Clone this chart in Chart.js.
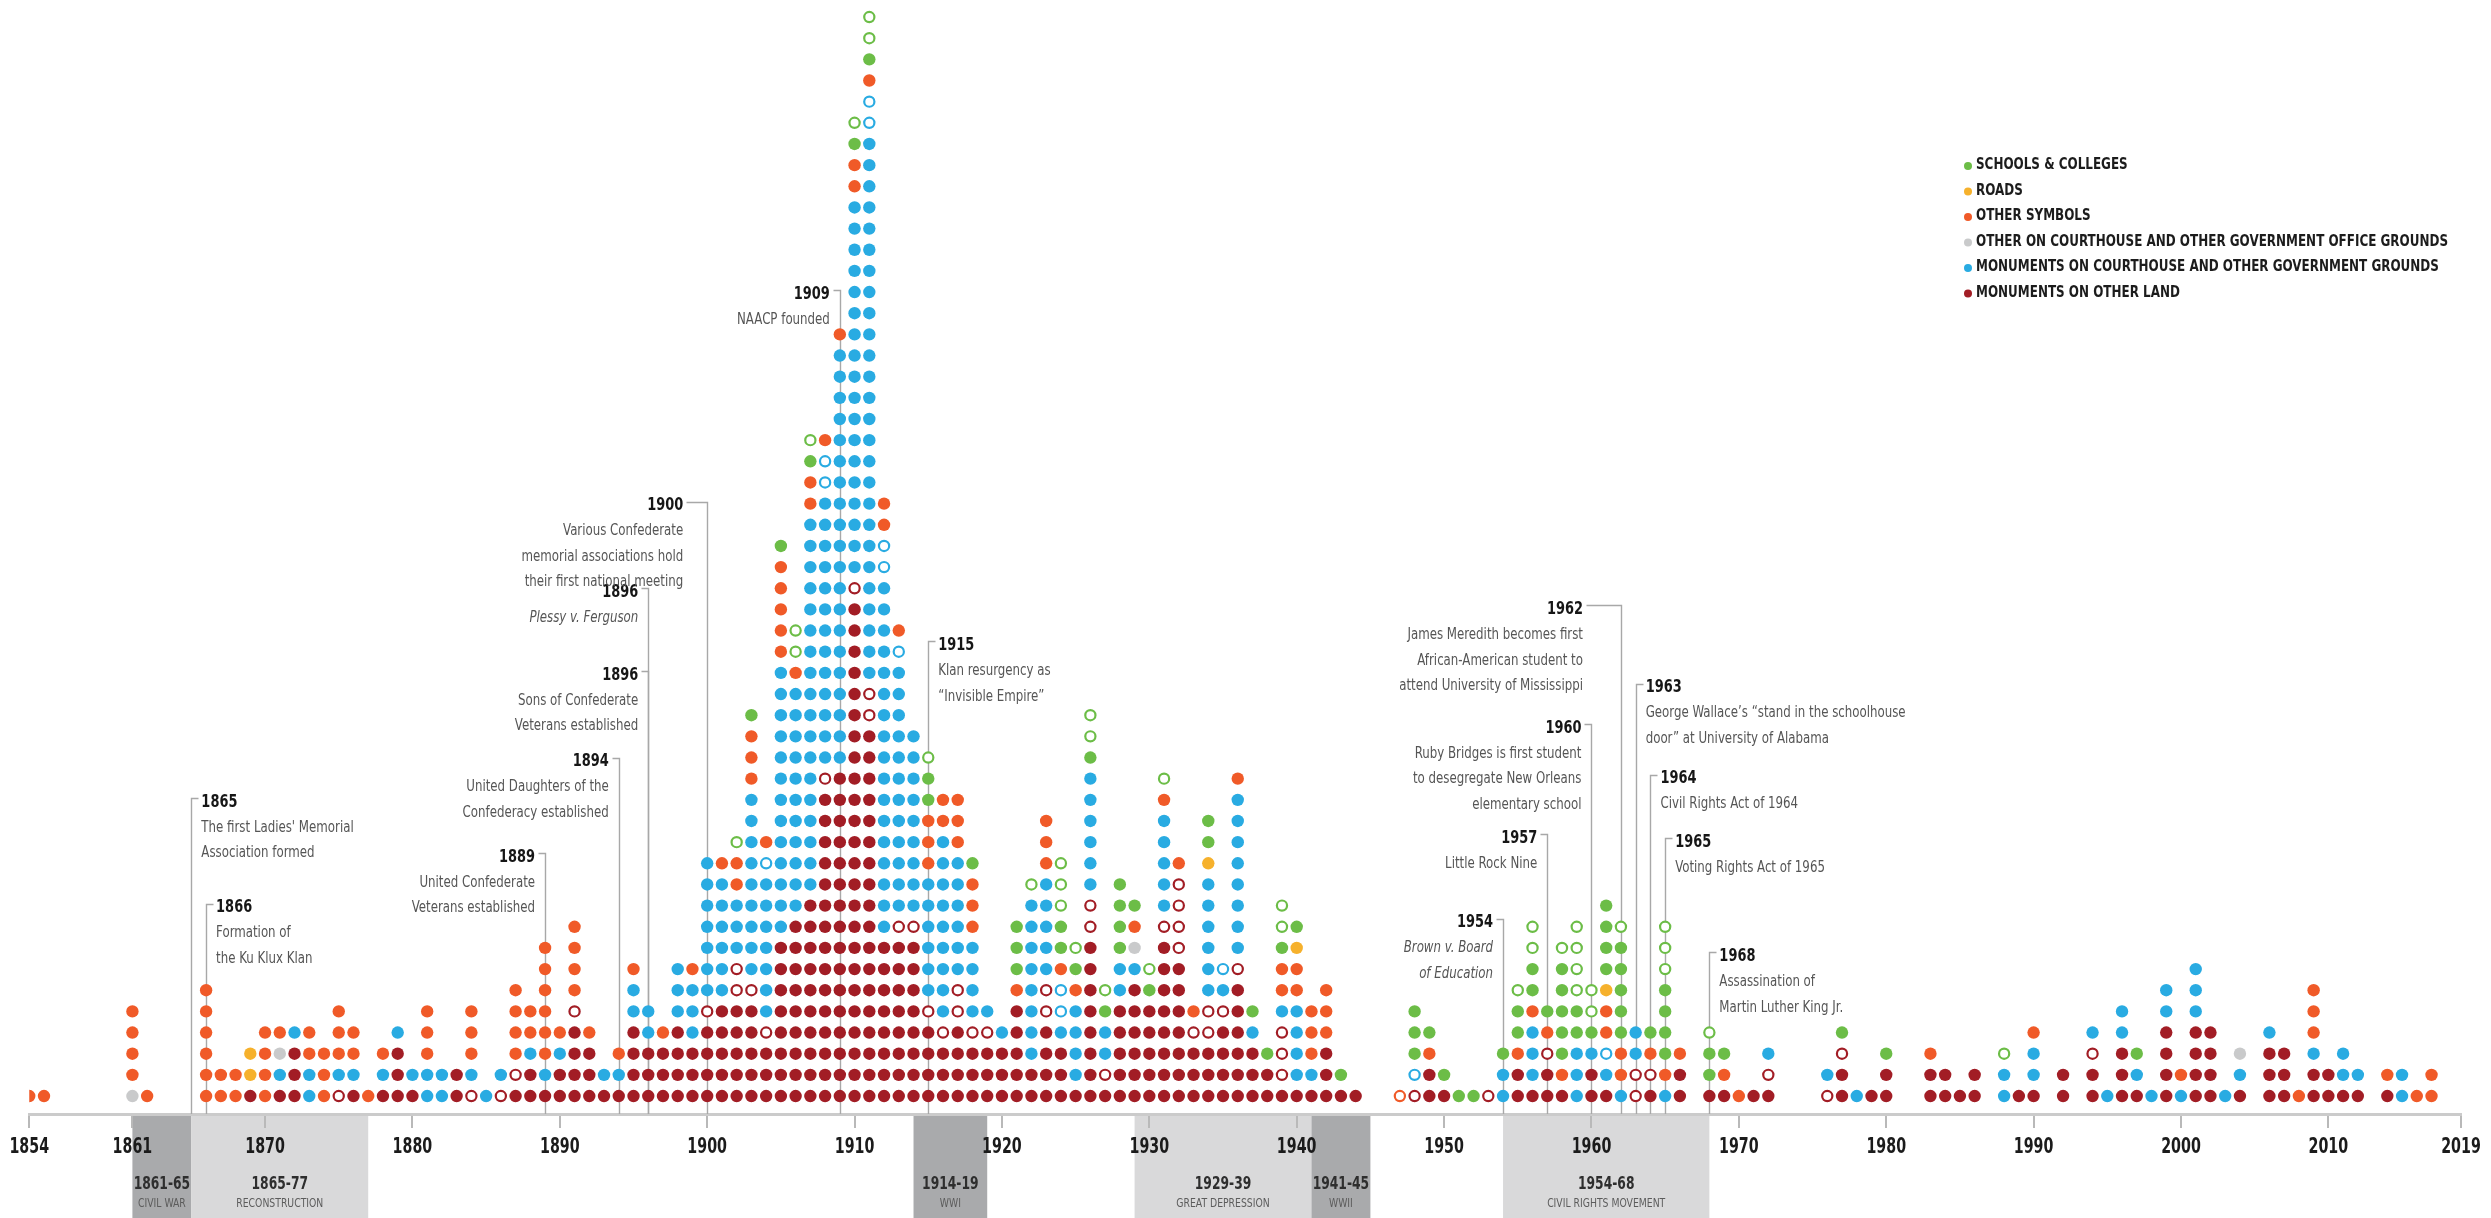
<!DOCTYPE html>
<html>
<head>
<meta charset="utf-8">
<script src="https://cdn.jsdelivr.net/npm/chart.js@4.4.1/dist/chart.umd.min.js"></script>
<style>
  html, body { margin: 0; padding: 0; background: #fff; }
  #chart { display: block; width: 2491px; height: 1218px; }
</style>
</head>
<body>
<canvas id="chart" width="2491" height="1218"></canvas>
<script>
/* Confederate symbols dedicated per year, 1854–2019 — one dot per symbol,
   stacked per year, drawn as a Chart.js scatter. */
const NARROW = "'Liberation Sans Narrow', 'DejaVu Sans Condensed', 'Arial Narrow', sans-serif";

const firstYear = 1854, lastYear = 2019;
const tickYears = [1854, 1861, 1870, 1880, 1890, 1900, 1910, 1920, 1930, 1940, 1950, 1960, 1970, 1980, 1990, 2000, 2010, 2019];

const categoryNames = [
  "MONUMENTS ON OTHER LAND",
  "MONUMENTS ON COURTHOUSE AND OTHER GOVERNMENT GROUNDS",
  "OTHER ON COURTHOUSE AND OTHER GOVERNMENT OFFICE GROUNDS",
  "OTHER SYMBOLS",
  "ROADS",
  "SCHOOLS & COLLEGES",
];
const categoryColors = ["#a21d25", "#29abe2", "#c9cacb", "#f05a28", "#f6b12c", "#6cbd47"];

// counts per year, first line 1854-59, then one line per decade (1860s ... 2010s)
const monumentsOtherLand = [
  0,0,0,0,0,0,
  0,0,0,0,0,0,0,0,0,1,
  0,1,3,0,0,0,1,0,1,3,
  1,0,0,2,0,0,0,1,2,1,
  2,4,3,1,1,4,3,3,4,3,
  4,5,5,5,3,8,9,10,15,16,
  24,18,8,8,8,4,3,4,3,3,
  3,5,2,4,3,1,8,1,5,6,
  5,8,7,3,3,4,6,3,2,1,
  1,1,3,1,1,0,0,0,0,2,
  1,0,0,0,0,2,1,2,1,0,
  2,1,0,0,1,0,2,0,1,1,
  0,1,1,0,0,0,0,2,0,1,
  2,0,0,2,2,1,2,0,0,1,
  1,0,2,0,2,0,3,1,0,4,
  0,4,4,0,1,0,3,3,0,2,
  2,1,1,0,1,0,0,0,0,0,
];
const monumentsOtherLandOpen = [
  0,0,0,0,0,0,
  0,0,0,0,0,0,0,0,0,0,
  0,0,0,0,0,1,0,0,0,0,
  0,0,0,0,1,0,1,1,0,0,
  0,1,0,0,0,0,0,0,0,0,
  1,0,2,1,1,0,0,0,1,0,
  1,2,0,1,1,1,1,2,1,1,
  0,0,0,2,0,0,2,1,0,0,
  0,1,4,1,2,1,1,0,0,3,
  0,0,0,0,0,0,0,0,1,0,
  0,0,0,1,0,0,0,1,0,0,
  0,0,0,2,1,0,0,0,0,0,
  0,0,1,0,0,0,1,1,0,0,
  0,0,0,0,0,0,0,0,0,0,
  0,0,0,0,1,0,0,0,0,0,
  0,0,0,0,0,0,0,0,0,0,
  0,0,0,0,0,0,0,0,0,0,
];
const monumentsCourthouse = [
  0,0,0,0,0,0,
  0,0,0,0,0,0,0,0,0,0,
  0,1,1,2,0,1,1,0,1,1,
  1,2,2,0,1,1,1,0,1,1,
  1,0,0,1,1,2,2,0,3,3,
  7,6,3,9,7,13,11,18,13,20,
  18,26,17,12,9,6,9,6,4,1,
  1,0,8,5,1,4,6,2,2,1,
  0,5,0,0,6,1,8,1,0,1,
  4,1,0,0,0,0,0,0,0,0,
  0,0,0,0,2,0,3,0,0,3,
  1,1,1,2,0,1,0,0,0,0,
  0,0,1,0,0,0,1,0,1,0,
  0,0,0,0,0,0,0,0,2,0,
  2,0,0,0,1,1,2,1,1,2,
  1,3,0,1,1,0,1,0,0,1,
  0,2,1,0,0,2,0,0,0,0,
];
const monumentsCourthouseOpen = [
  0,0,0,0,0,0,
  0,0,0,0,0,0,0,0,0,0,
  0,0,0,0,0,0,0,0,0,0,
  0,0,0,0,0,0,0,0,0,0,
  0,0,0,0,0,0,0,0,0,0,
  0,0,0,0,1,0,0,0,2,0,
  0,2,2,1,0,0,0,0,0,0,
  0,0,0,0,2,0,0,0,0,0,
  0,0,0,0,0,1,0,0,0,0,
  0,0,0,0,0,0,0,0,1,0,
  0,0,0,0,0,0,0,0,0,0,
  0,1,0,0,0,0,0,0,0,0,
  0,0,0,0,0,0,0,0,0,0,
  0,0,0,0,0,0,0,0,0,0,
  0,0,0,0,0,0,0,0,0,0,
  0,0,0,0,0,0,0,0,0,0,
  0,0,0,0,0,0,0,0,0,0,
];
const otherCourthouse = [
  0,0,0,0,0,0,
  0,1,0,0,0,0,0,0,0,0,
  0,1,0,0,0,0,0,0,0,0,
  0,0,0,0,0,0,0,0,0,0,
  0,0,0,0,0,0,0,0,0,0,
  0,0,0,0,0,0,0,0,0,0,
  0,0,0,0,0,0,0,0,0,0,
  0,0,0,0,0,0,0,0,0,1,
  0,0,0,0,0,0,0,0,0,0,
  0,0,0,0,0,0,0,0,0,0,
  0,0,0,0,0,0,0,0,0,0,
  0,0,0,0,0,0,0,0,0,0,
  0,0,0,0,0,0,0,0,0,0,
  0,0,0,0,0,0,0,0,0,0,
  0,0,0,0,0,0,0,0,0,0,
  0,0,0,0,1,0,0,0,0,0,
  0,0,0,0,0,0,0,0,0,0,
];
const otherSymbols = [
  1,1,0,0,0,0,
  0,4,1,0,0,0,6,2,2,0,
  4,1,0,2,3,3,2,1,1,0,
  0,3,0,0,3,0,0,4,2,6,
  1,4,1,0,1,1,0,1,0,1,
  0,1,2,3,1,5,1,2,1,1,
  2,1,2,1,0,3,2,3,3,0,
  0,1,0,3,1,1,0,0,0,1,
  0,1,1,1,0,0,1,0,0,2,
  2,3,3,0,0,0,0,0,0,1,
  0,0,0,0,0,1,1,1,1,0,
  0,2,2,0,1,1,1,0,0,1,
  1,0,0,0,0,0,0,0,0,0,
  0,0,0,1,0,0,0,0,0,0,
  1,0,0,0,0,0,0,0,0,0,
  1,0,0,0,0,0,0,0,1,3,
  0,0,0,0,1,0,1,2,0,0,
];
const otherSymbolsOpen = [
  0,0,0,0,0,0,
  0,0,0,0,0,0,0,0,0,0,
  0,0,0,0,0,0,0,0,0,0,
  0,0,0,0,0,0,0,0,0,0,
  0,0,0,0,0,0,0,0,0,0,
  0,0,0,0,0,0,0,0,0,0,
  0,0,0,0,0,0,0,0,0,0,
  0,0,0,0,0,0,0,0,0,0,
  0,0,0,0,0,0,0,0,0,0,
  0,0,0,0,0,0,0,1,0,0,
  0,0,0,0,0,0,0,0,0,0,
  0,0,0,0,0,0,0,0,0,0,
  0,0,0,0,0,0,0,0,0,0,
  0,0,0,0,0,0,0,0,0,0,
  0,0,0,0,0,0,0,0,0,0,
  0,0,0,0,0,0,0,0,0,0,
  0,0,0,0,0,0,0,0,0,0,
];
const roads = [
  0,0,0,0,0,0,
  0,0,0,0,0,0,0,0,0,2,
  0,0,0,0,0,0,0,0,0,0,
  0,0,0,0,0,0,0,0,0,0,
  0,0,0,0,0,0,0,0,0,0,
  0,0,0,0,0,0,0,0,0,0,
  0,0,0,0,0,0,0,0,0,0,
  0,0,0,0,0,0,0,0,0,0,
  0,0,0,0,1,0,0,0,0,0,
  1,0,0,0,0,0,0,0,0,0,
  0,0,0,0,0,0,0,0,0,0,
  0,1,0,0,0,0,0,0,0,0,
  0,0,0,0,0,0,0,0,0,0,
  0,0,0,0,0,0,0,0,0,0,
  0,0,0,0,0,0,0,0,0,0,
  0,0,0,0,0,0,0,0,0,0,
  0,0,0,0,0,0,0,0,0,0,
];
const schools = [
  0,0,0,0,0,0,
  0,0,0,0,0,0,0,0,0,0,
  0,0,0,0,0,0,0,0,0,0,
  0,0,0,0,0,0,0,0,0,0,
  0,0,0,0,0,0,0,0,0,0,
  0,0,0,1,0,1,0,1,0,0,
  1,1,0,0,0,2,0,0,1,0,
  0,3,0,0,2,1,1,1,4,1,
  1,0,0,0,2,0,0,1,1,1,
  1,0,0,1,0,0,0,0,3,1,
  1,1,1,0,1,2,2,1,5,2,
  1,4,5,0,1,4,0,0,2,1,
  0,0,0,0,0,0,0,1,0,0,
  1,0,0,0,0,0,0,0,0,0,
  0,0,0,0,0,0,0,1,0,0,
  0,0,0,0,0,0,0,0,0,0,
  0,0,0,0,0,0,0,0,0,0,
];
const schoolsOpen = [
  0,0,0,0,0,0,
  0,0,0,0,0,0,0,0,0,0,
  0,0,0,0,0,0,0,0,0,0,
  0,0,0,0,0,0,0,0,0,0,
  0,0,0,0,0,0,0,0,0,0,
  0,0,1,0,0,0,2,1,0,0,
  1,2,0,0,0,1,0,0,0,0,
  0,0,1,0,3,1,2,1,0,0,
  1,1,0,0,0,0,0,0,0,2,
  0,0,0,0,0,0,0,0,0,0,
  0,0,0,0,0,1,2,0,1,4,
  2,0,1,0,0,3,0,0,1,0,
  0,0,0,0,0,0,0,0,0,0,
  0,0,0,0,0,0,0,0,1,0,
  0,0,0,0,0,0,0,0,0,0,
  0,0,0,0,0,0,0,0,0,0,
  0,0,0,0,0,0,0,0,0,0,
];

// historical periods shown under the axis
const periodStart = [1861, 1865, 1914, 1929, 1941, 1954];
const periodEnd   = [1865, 1877, 1919, 1941, 1945, 1968];
const periodYears = ["1861-65", "1865-77", "1914-19", "1929-39", "1941-45", "1954-68"];
const periodNames = ["CIVIL WAR", "RECONSTRUCTION", "WWI", "GREAT DEPRESSION", "WWII", "CIVIL RIGHTS MOVEMENT"];
const periodIsWar = [true, false, true, false, true, false];

// events: level is the height of the label in dot rows
const notes = [
  { year: 1865, level: 13.9, side: "right", lines: ["The first Ladies' Memorial", "Association formed"] },
  { year: 1866, level: 8.9,  side: "right", lines: ["Formation of", "the Ku Klux Klan"] },
  { year: 1889, level: 11.3, side: "left",  lines: ["United Confederate", "Veterans established"] },
  { year: 1894, level: 15.8, side: "left",  lines: ["United Daughters of the", "Confederacy established"] },
  { year: 1896, level: 19.9, side: "left",  lines: ["Sons of Confederate", "Veterans established"] },
  { year: 1896, level: 23.8, side: "left",  lines: ["Plessy v. Ferguson"], italic: true },
  { year: 1900, level: 27.9, side: "left",  lines: ["Various Confederate", "memorial associations hold", "their first national meeting"], gap: 24 },
  { year: 1909, level: 37.9, side: "left",  lines: ["NAACP founded"] },
  { year: 1915, level: 21.3, side: "right", lines: ["Klan resurgency as", "\u201cInvisible Empire\u201d"] },
  { year: 1954, level: 8.2,  side: "left",  lines: ["Brown v. Board", "of Education"], italic: true },
  { year: 1957, level: 12.2, side: "left",  lines: ["Little Rock Nine"] },
  { year: 1960, level: 17.4, side: "left",  lines: ["Ruby Bridges is first student", "to desegregate New Orleans", "elementary school"] },
  { year: 1962, level: 23.0, side: "left",  lines: ["James Meredith becomes first", "African-American student to", "attend University of Mississippi"], gap: 38 },
  { year: 1963, level: 19.3, side: "right", lines: ["George Wallace\u2019s \u201cstand in the schoolhouse", "door\u201d at University of Alabama"] },
  { year: 1964, level: 15.0, side: "right", lines: ["Civil Rights Act of 1964"] },
  { year: 1965, level: 12.0, side: "right", lines: ["Voting Rights Act of 1965"] },
  { year: 1968, level: 6.6,  side: "right", lines: ["Assassination of", "Martin Luther King Jr."] },
];

// stacking order, bottom to top: [counts, category, open dot]
const series = [
  [monumentsOtherLand, 0, false],
  [monumentsOtherLandOpen, 0, true],
  [monumentsCourthouse, 1, false],
  [monumentsCourthouseOpen, 1, true],
  [otherCourthouse, 2, false],
  [otherSymbols, 3, false],
  [otherSymbolsOpen, 3, true],
  [roads, 4, false],
  [schools, 5, false],
  [schoolsOpen, 5, true],
];

const nYears = lastYear - firstYear + 1;
const stackHeight = new Array(nYears).fill(0);
const datasets = series.map(([counts, cat, open]) => {
  if (counts.length !== nYears) console.warn("bad length", categoryNames[cat], counts.length);
  const pts = [];
  counts.forEach((n, i) => {
    for (let j = 0; j < n; j++) pts.push({ x: firstYear + i, y: stackHeight[i]++ });
  });
  const col = categoryColors[cat];
  return {
    label: categoryNames[cat] + (open ? " (open)" : ""),
    data: pts,
    pointStyle: "circle",
    pointRadius: open ? 5.1 : 6.2,
    pointBackgroundColor: open ? "#ffffff" : col,
    pointBorderColor: col,
    pointBorderWidth: open ? 2.2 : 0,
  };
});

// text squeezed horizontally, the installed fonts are wider than the original's
function squeezed(ctx, text, x, y, align, sx) {
  ctx.save();
  ctx.translate(x, y);
  ctx.scale(sx, 1);
  ctx.textAlign = align;
  ctx.fillText(text, 0, 0);
  ctx.restore();
}

// grey period boxes below the axis
const periodPlugin = {
  id: "periods",
  beforeDraw(chart) {
    const { ctx, chartArea, scales: { x } } = chart;
    const top = chartArea.bottom, bottom = chart.height;
    ctx.save();
    ctx.textBaseline = "middle";
    periodStart.forEach((s, i) => {
      const x0 = x.getPixelForValue(s), x1 = x.getPixelForValue(periodEnd[i]);
      ctx.fillStyle = periodIsWar[i] ? "#a9aaac" : "#d9d9da";
      ctx.fillRect(x0, top, x1 - x0, bottom - top);
      const cx = (x0 + x1) / 2;
      ctx.fillStyle = "#2e2e2e";
      ctx.font = `bold 18px ${NARROW}`;
      squeezed(ctx, periodYears[i], cx, top + 70, "center", 0.76);
      ctx.fillStyle = "#5c5c5c";
      ctx.font = `12px ${NARROW}`;
      squeezed(ctx, periodNames[i], cx, top + 90, "center", 0.86);
    });
    ctx.restore();
  },
};

// event leader lines (behind dots) and their text
const notePlugin = {
  id: "notes",
  beforeDatasetsDraw(chart) {
    const { ctx, chartArea, scales: { x, y } } = chart;
    ctx.save();
    ctx.strokeStyle = "#a8a8a8";
    ctx.lineWidth = 1.4;
    notes.forEach((n) => {
      const px = Math.round(x.getPixelForValue(n.year)) + 0.5;
      const py = Math.round(y.getPixelForValue(n.level)) - 3.5;
      const dir = n.side === "right" ? 1 : -1;
      const gap = n.gap || 10;
      ctx.beginPath();
      ctx.moveTo(px + dir * (gap - 3), py);
      ctx.lineTo(px, py);
      ctx.lineTo(px, chartArea.bottom);
      ctx.stroke();
    });
    ctx.restore();
  },
  afterDraw(chart) {
    const { ctx, scales: { x, y } } = chart;
    ctx.save();
    ctx.textBaseline = "middle";
    notes.forEach((n) => {
      const px = x.getPixelForValue(n.year);
      const py = y.getPixelForValue(n.level);
      const gap = n.gap || 10;
      const tx = n.side === "right" ? px + gap : px - gap;
      const align = n.side === "right" ? "left" : "right";
      ctx.fillStyle = "#161616";
      ctx.font = `bold 18px ${NARROW}`;
      squeezed(ctx, String(n.year), tx, py, align, 0.8);
      ctx.fillStyle = "#555";
      ctx.font = `${n.italic ? "italic " : ""}16px ${NARROW}`;
      n.lines.forEach((l, i) => squeezed(ctx, l, tx, py + 25.5 * (i + 1), align, 0.82));
    });
    ctx.restore();
  },
};

// condensed year labels on the library's own x ticks, plus the legend
const labelPlugin = {
  id: "labels",
  afterDraw(chart) {
    const { ctx, chartArea, scales: { x } } = chart;
    ctx.save();
    ctx.textBaseline = "middle";
    ctx.fillStyle = "#1b1b1b";
    ctx.font = `bold 22px ${NARROW}`;
    x.ticks.forEach((t) => squeezed(ctx, String(t.value), x.getPixelForValue(t.value), chartArea.bottom + 33, "center", 0.72));

    const lx = 1968, ly = 165, step = 25.5;
    ctx.font = `bold 16px ${NARROW}`;
    const widest = Math.max(...categoryNames.map((c) => ctx.measureText(c).width));
    const sx = 472 / widest;
    categoryNames.slice().reverse().forEach((name, i) => {
      const cat = categoryNames.length - 1 - i;
      const yy = ly + i * step;
      ctx.fillStyle = categoryColors[cat];
      ctx.beginPath();
      ctx.arc(lx, yy + 1, 4, 0, Math.PI * 2);
      ctx.fill();
      ctx.fillStyle = "#1c1c1c";
      squeezed(ctx, name, lx + 8, yy, "left", sx);
    });
    ctx.restore();
  },
};

new Chart(document.getElementById("chart"), {
  type: "scatter",
  data: { datasets },
  options: {
    responsive: false,
    animation: false,
    devicePixelRatio: 1,
    events: [],
    layout: { padding: { left: 27, right: 30, top: 5, bottom: 0 } },
    plugins: { legend: { display: false }, tooltip: { enabled: false } },
    scales: {
      x: {
        type: "linear", min: firstYear, max: lastYear,
        afterBuildTicks: (s) => { s.ticks = tickYears.map((v) => ({ value: v })); },
        afterFit: (s) => { s.height = 104; },
        ticks: { autoSkip: false, maxRotation: 0, padding: 7, color: "rgba(0,0,0,0)",
                 font: { size: 20, weight: "bold" }, callback: (v) => String(v) },
        grid: { drawOnChartArea: false, drawTicks: true, tickLength: 14, color: "#b9b9b9", lineWidth: 2 },
        border: { display: true, color: "#cbcbcb", width: 3 },
      },
      y: { display: false, min: -0.85, max: 51.46 },
    },
  },
  plugins: [periodPlugin, notePlugin, labelPlugin],
});
</script>
</body>
</html>
